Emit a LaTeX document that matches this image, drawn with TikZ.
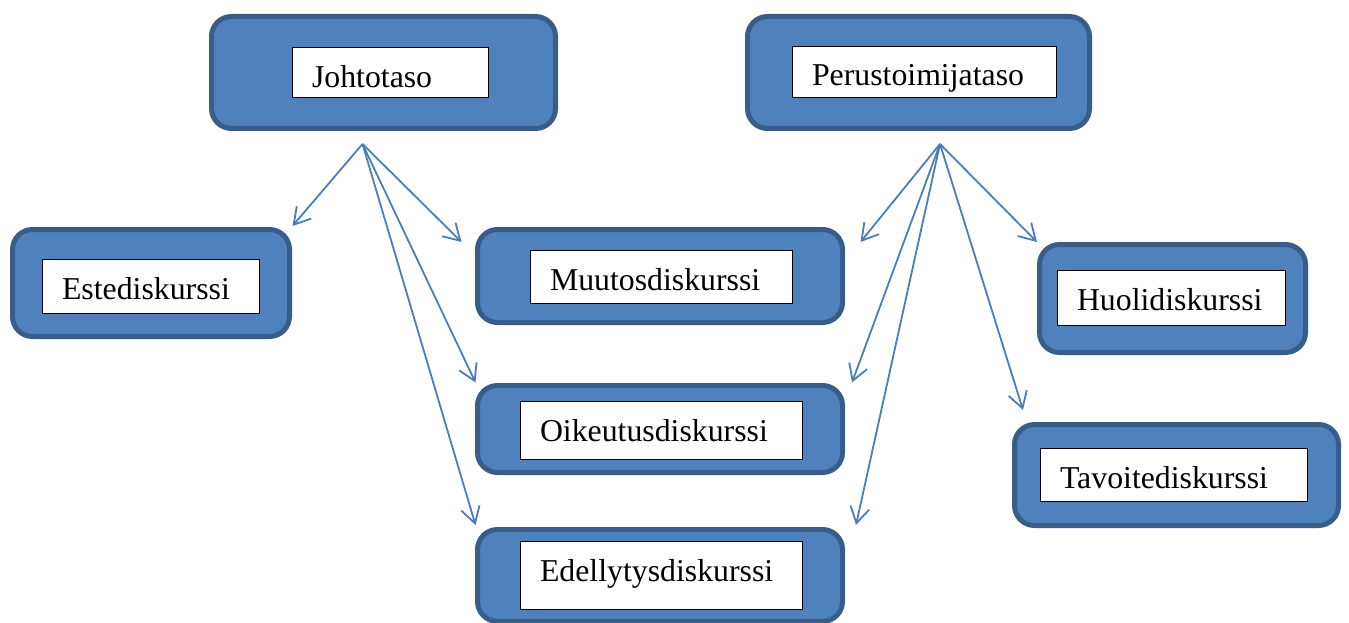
\documentclass[tikz,border=0pt]{standalone}
\usepackage{fontspec}
\setmainfont{Liberation Serif}
\usetikzlibrary{arrows.meta}

\definecolor{boxblue}{HTML}{4F81BD}
\definecolor{boxedge}{HTML}{385D8A}
\definecolor{linkblue}{HTML}{4A7EBB}

\begin{document}
\begin{tikzpicture}[x=1pt, y=-1pt,
    level/.style={draw=boxedge, fill=boxblue, line width=5pt, rounded corners=20pt, inner sep=0pt, outer sep=0pt},
    tag/.style={draw=black, fill=white, line width=0.8pt, anchor=base west, inner xsep=20pt, inner ysep=0pt, outer sep=0pt, text height=40pt, align=left, font=\fontsize{31.8}{38}\selectfont},
    link/.style={draw=linkblue, line width=1.8pt, -{Straight Barb[length=16pt, width=19pt]}}]
    \useasboundingbox (0,0) rectangle (1349,623);

    % Levels
    \node[level, minimum width=344pt, minimum height=112pt] (johto) at (383.5,72.5) {};
    \node[level, minimum width=342pt, minimum height=112pt] (perus) at (918.5,72.5) {};

    % Discourses
    \node[level, minimum width=277pt, minimum height=107pt] (este) at (151,283) {};
    \node[level, minimum width=365pt, minimum height=93pt] (muutos) at (660,276) {};
    \node[level, minimum width=365pt, minimum height=87pt] (oikeutus) at (660,429) {};
    \node[level, minimum width=365pt, minimum height=92pt] (edell) at (660,575.5) {};
    \node[level, minimum width=266pt, minimum height=108pt] (huoli) at (1172.5,298.5) {};
    \node[level, minimum width=324pt, minimum height=101pt] (tavoite) at (1176.5,475) {};

    % Labels
    \node[tag, text width=156pt, text depth=9.3pt] (johto-tag) at (292,87.7) {Johtotaso};
    \node[tag, text width=224pt, text depth=11pt] (perus-tag) at (792,86) {Perustoimijataso};
    \node[tag, text width=177pt, text depth=14pt] (este-tag) at (42,299) {Estediskurssi};
    \node[tag, text width=222pt, text depth=12.3pt] (muutos-tag) at (530,290.7) {Muutosdiskurssi};
    \node[tag, text width=242pt, text depth=18pt] (oikeutus-tag) at (520,441) {Oikeutusdiskurssi};
    \node[tag, text width=242pt, text depth=27.3pt] (edell-tag) at (520,581.7) {Edellytysdiskurssi};
    \node[tag, text width=188pt, text depth=15pt] (huoli-tag) at (1057,310) {Huolidiskurssi};
    \node[tag, text width=227pt, text depth=13pt] (tavoite-tag) at (1040,488) {Tavoitediskurssi};

    % Connections
    \coordinate (johto-out) at (362.5,144);
    \coordinate (perus-out) at (940,144);
    \coordinate (este-in) at (292.5,226);
    \coordinate (muutos-l) at (461.5,242);
    \coordinate (oikeutus-l) at (475.5,382.5);
    \coordinate (edell-l) at (475.5,525);
    \coordinate (muutos-r) at (860.5,242);
    \coordinate (huoli-in) at (1037,242);
    \coordinate (oikeutus-r) at (852,382.5);
    \coordinate (tavoite-in) at (1023,410);
    \coordinate (edell-r) at (856,525);

    \draw[link] (johto-out) -- (este-in);
    \draw[link] (johto-out) -- (muutos-l);
    \draw[link] (johto-out) -- (oikeutus-l);
    \draw[link] (johto-out) -- (edell-l);
    \draw[link] (perus-out) -- (muutos-r);
    \draw[link] (perus-out) -- (huoli-in);
    \draw[link] (perus-out) -- (oikeutus-r);
    \draw[link] (perus-out) -- (tavoite-in);
    \draw[link] (perus-out) -- (edell-r);
\end{tikzpicture}
\end{document}
